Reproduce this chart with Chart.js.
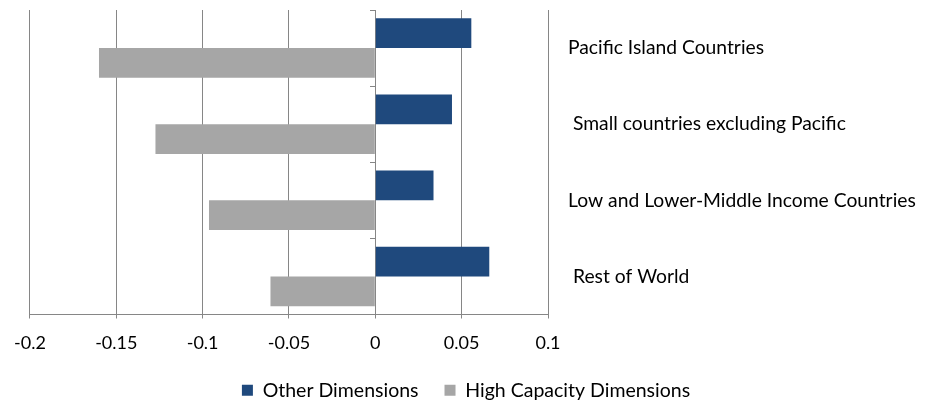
<!DOCTYPE html>
<html>
<head>
<meta charset="utf-8">
<script src="https://cdn.jsdelivr.net/npm/chart.js@4"></script>
<style>
  body { margin: 0; background: #fff; }
  #wrap { width: 925px; height: 402px; }
</style>
</head>
<body>
<div id="wrap"><canvas id="myChart"></canvas></div>
<script>
const categories = ['Pacific Island Countries', ' Small countries excluding Pacific', 'Low and Lower-Middle Income Countries', ' Rest of World'];
const otherDimensions = [0.0556, 0.0444, 0.0337, 0.066];
const highCapacityDimensions = [-0.160, -0.1273, -0.0963, -0.0607];
const xTicks = [-0.2, -0.15, -0.1, -0.05, 0, 0.05, 0.1];

const axisGrey = '#868686';
const fontFamily = 'Lato, "Open Sans", sans-serif';

const ctx = document.getElementById('myChart').getContext('2d');

const myChart = new Chart(ctx, {
    type: 'bar',
    data: {
        labels: categories,
        datasets: [{
            label: 'Other Dimensions',
            data: otherDimensions,
            backgroundColor: '#1F497D',
            categoryPercentage: 0.78,
            barPercentage: 1
        }, {
            label: 'High Capacity Dimensions',
            data: highCapacityDimensions,
            backgroundColor: '#A6A6A6',
            categoryPercentage: 0.78,
            barPercentage: 1
        }]
    },
    options: {
        indexAxis: 'y',
        responsive: true,
        maintainAspectRatio: false,
        animation: false,
        layout: {
            padding: { top: 10, left: 7, right: 0, bottom: -8 }
        },
        plugins: {
            tooltip: { enabled: false },
            legend: {
                position: 'bottom',
                labels: {
                    boxWidth: 11,
                    boxHeight: 11,
                    padding: 26,
                    color: '#000',
                    font: { family: fontFamily, size: 19.5 }
                }
            }
        },
        scales: {
            x: {
                min: -0.2,
                max: 0.1,
                afterBuildTicks: (axis) => {
                    axis.ticks = xTicks.map(v => ({ value: v }));
                },
                afterFit: (axis) => { axis.height = 40; },
                grid: {
                    color: axisGrey,
                    tickLength: 4,
                    drawTicks: true
                },
                border: { color: axisGrey },
                ticks: {
                    color: '#000',
                    padding: 14,
                    font: { family: fontFamily, size: 18 },
                    callback: (v) => String(Math.round(v * 100) / 100)
                }
            },
            y: {
                position: { x: 0 },
                offset: true,
                grid: {
                    offset: true,
                    drawOnChartArea: false,
                    drawTicks: true,
                    tickLength: 5,
                    color: axisGrey
                },
                border: { color: axisGrey },
                ticks: { display: false }
            },
            // empty spacer on the left so the legend can centre on the full width
            yLeft: {
                type: 'category',
                position: 'left',
                labels: categories,
                afterFit: (axis) => {
                    axis.width = 21;
                    axis.paddingTop = 0;
                    axis.paddingBottom = 0;
                },
                grid: { display: false },
                border: { display: false },
                ticks: { display: false }
            },
            y2: {
                type: 'category',
                position: 'right',
                offset: true,
                labels: categories,
                afterFit: (axis) => {
                    axis.width = 377;
                    axis.paddingTop = 0;
                    axis.paddingBottom = 0;
                },
                grid: { display: false },
                border: { display: false },
                ticks: {
                    padding: 12,
                    color: '#000',
                    font: { family: fontFamily, size: 19.3 }
                }
            }
        }
    }
});
</script>
</body>
</html>
